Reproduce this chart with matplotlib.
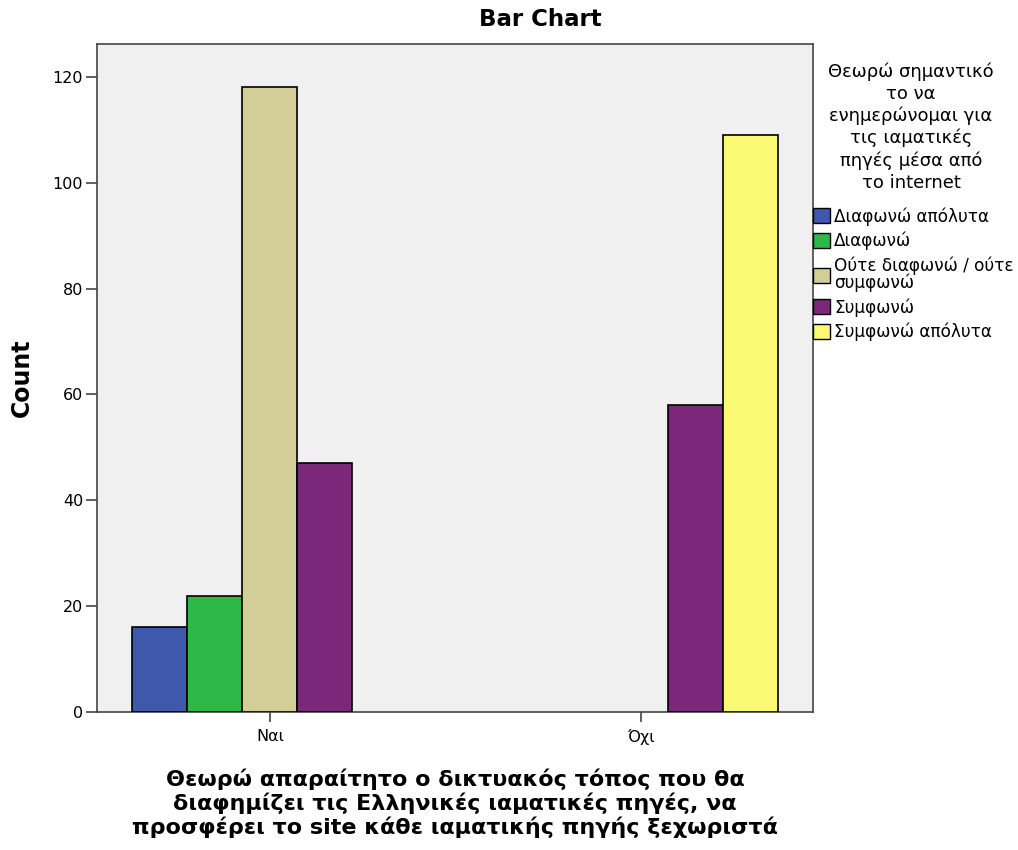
import matplotlib
matplotlib.use("Agg")
import matplotlib.pyplot as plt
import numpy as np

plt.rcParams['font.family'] = ['DejaVu Sans']

categories = ["Ναι", "Όχι"]
series_names = ["Διαφωνώ απόλυτα", "Διαφωνώ", "Ούτε διαφωνώ / ούτε\nσυμφωνώ", "Συμφωνώ", "Συμφωνώ απόλυτα"]
values = {
    "Διαφωνώ απόλυτα": [16, 0],
    "Διαφωνώ": [22, 0],
    "Ούτε διαφωνώ / ούτε\nσυμφωνώ": [118, 0],
    "Συμφωνώ": [47, 58],
    "Συμφωνώ απόλυτα": [0, 109],
}
colors = ["#3E58AC", "#2EB848", "#D3CE97", "#7B287B", "#FBF873"]
yticks = [0, 20, 40, 60, 80, 100, 120]
legend_title = "Θεωρώ σημαντικό\nτο να\nενημερώνομαι για\nτις ιαματικές\nπηγές μέσα από\nτο internet"

fig = plt.figure(figsize=(10.18, 8.5), dpi=100)
ax = fig.add_axes([97/1018, 1-712/850, (813-97)/1018, (712-44)/850])
ax.set_facecolor("#F0F0F0")

x = np.arange(len(categories))
w = 55/371
handles = []
for i, name in enumerate(series_names):
    vals = np.array(values[name], dtype=float)
    pos = x + (i - 2) * w
    mask = vals > 0
    ax.bar(pos[mask], vals[mask], width=w, color=colors[i], edgecolor="black", linewidth=1.2, zorder=3)
    handles.append(plt.Rectangle((0, 0), 1, 1, facecolor=colors[i], edgecolor="black", linewidth=1.0))

ax.set_xlim(-0.466, 1.464)
ax.set_ylim(0, 126.2)
ax.set_xticks(x)
ax.set_xticklabels(categories, fontsize=11.5)
ax.set_yticks(yticks)
ax.set_yticklabels([str(t) for t in yticks], fontsize=11.5)
ax.tick_params(axis='y', direction='out', length=8, width=1.2, color="#444444", pad=2)
ax.tick_params(axis='x', direction='out', length=7, width=1.2, color="#444444", pad=5)
for s in ax.spines.values():
    s.set_linewidth(1.2)
    s.set_color("#444444")

fig.text(22/1018, 1-378/850, "Count", rotation=90, ha="center", va="center",
         fontsize=17, fontweight="bold")
fig.text(455/1018, 1-803/850,
         "Θεωρώ απαραίτητο ο δικτυακός τόπος που θα\nδιαφημίζει τις Ελληνικές ιαματικές πηγές, να\nπροσφέρει το site κάθε ιαματικής πηγής ξεχωριστά",
         ha="center", va="center", fontsize=16, fontweight="bold", linespacing=1.15)
fig.text(540/1018, 1-20/850, "Bar Chart", ha="center", va="center", fontsize=16.5, fontweight="bold")

fig.text(911/1018, 1-127/850, legend_title, ha="center", va="center", multialignment="center",
         fontsize=13, linespacing=1.27)

leg = ax.legend(handles, series_names, loc="upper left", bbox_to_anchor=(813/1018, 1-207/850),
                bbox_transform=fig.transFigure, frameon=False, fontsize=12.2,
                handlelength=1.0, handleheight=1.0, handletextpad=0.25,
                labelspacing=0.36, borderaxespad=0, borderpad=0)
for t in leg.get_texts():
    t.set_linespacing(0.92)

fig.savefig("out.png", dpi=100)
